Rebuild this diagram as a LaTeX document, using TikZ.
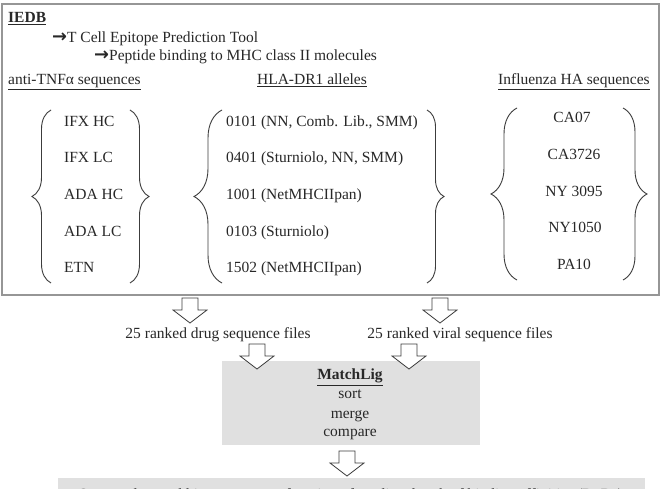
\documentclass[tikz,border=0pt]{standalone}
\usepackage{fontspec}
\setmainfont{Liberation Serif}
\newfontfamily\arrfont{DejaVu Sans}[Scale=1.15]
\usetikzlibrary{decorations.pathreplacing}
\newcommand\dfs{\fontsize{15.5}{19}\selectfont}
\newcommand\barr{{\arrfont\bfseries →}}
\definecolor{framegray}{RGB}{150,150,150}
\definecolor{boxgray}{RGB}{224,224,224}
\definecolor{inkgray}{RGB}{40,40,40}
\definecolor{bracegray}{RGB}{60,60,60}
\tikzset{
  lbl/.style={anchor=base west, inner sep=0pt, font=\dfs, text=inkgray},
  lblc/.style={anchor=base, inner sep=0pt, font=\dfs, text=inkgray},
  frame/.style={draw=framegray, line width=2pt},
  graybox/.style={fill=boxgray, draw=none},
  brc/.style={draw=bracegray, line width=0.9pt, decorate},
  barrowstyle/.style={draw=bracegray, fill=white, line width=0.8pt, line join=miter},
  blockarrow/.pic={\path[barrowstyle] (-8,0) -- (8,0) -- (8,12) -- (17,12) -- (0,25) -- (-17,12) -- (-8,12) -- cycle;}
}
\begin{document}
\begin{tikzpicture}[x=1pt,y=-1pt]
\useasboundingbox (0,0) rectangle (662,489);
\clip (0,0) rectangle (662,489);
\fill[white] (0,0) rectangle (662,489);
% outer frame
\draw[frame] (2,4) rectangle (659,295);
% header texts
\node[lbl] (iedb) at (8,23) {\textbf{\underline{IEDB}}};
\node[lbl] (tool) at (52,43) {\barr T Cell Epitope Prediction Tool};
\node[lbl] (pep) at (94,61) {\barr Peptide binding to MHC class II molecules};
\node[lbl] (h1) at (8,85) {\underline{anti-TNFα sequences}};
\node[lblc] (h2) at (312,85) {\underline{HLA-DR1 alleles}};
\node[lbl] (h3) at (498,85) {\underline{Influenza HA sequences}};
% left column
\node[lbl] (d1) at (64,127) {IFX HC};
\node[lbl] (d2) at (64,163) {IFX LC};
\node[lbl] (d3) at (64,200) {ADA HC};
\node[lbl] (d4) at (64,237) {ADA LC};
\node[lbl] (d5) at (64,273) {ETN};
% middle column
\node[lbl] (m1) at (226,127) {0101 (NN, Comb. Lib., SMM)};
\node[lbl] (m2) at (226,163) {0401 (Sturniolo, NN, SMM)};
\node[lbl] (m3) at (226,200) {1001 (NetMHCIIpan)};
\node[lbl] (m4) at (226,237) {0103 (Sturniolo)};
\node[lbl] (m5) at (226,273) {1502 (NetMHCIIpan)};
% right column
\node[lblc] (v1) at (572,123) {CA07};
\node[lblc] (v2) at (574,160) {CA3726};
\node[lblc] (v3) at (574,197) {NY 3095};
\node[lblc] (v4) at (575,233) {NY1050};
\node[lblc] (v5) at (574,270) {PA10};
% braces
\coordinate (b1b) at (51,283); \coordinate (b1t) at (51,110);
\coordinate (b2b) at (130,283); \coordinate (b2t) at (130,110);
\coordinate (b3b) at (222,283); \coordinate (b3t) at (222,110);
\coordinate (b4b) at (427,283); \coordinate (b4t) at (427,110);
\coordinate (b5b) at (517,280); \coordinate (b5t) at (517,108);
\coordinate (b6b) at (623,280); \coordinate (b6t) at (623,108);
\draw[brc, decoration={brace, amplitude=19pt}] (b1b) -- (b1t);
\draw[brc, decoration={brace, amplitude=19pt}] (b2t) -- (b2b);
\draw[brc, decoration={brace, amplitude=28pt}] (b3b) -- (b3t);
\draw[brc, decoration={brace, amplitude=17pt}] (b4t) -- (b4b);
\draw[brc, decoration={brace, amplitude=26pt}] (b5b) -- (b5t);
\draw[brc, decoration={brace, amplitude=24pt}] (b6t) -- (b6b);
% first arrows and labels
\coordinate (a1) at (190,298);
\coordinate (a2) at (440,298);
\pic at (a1) {blockarrow};
\pic at (a2) {blockarrow};
\node[lblc] (drug) at (218,338) {25 ranked drug sequence files};
\node[lblc] (viral) at (460,338) {25 ranked viral sequence files};
% MatchLig box
\path[graybox] (222,361) rectangle (480,445);
\coordinate (a3) at (257,344);
\coordinate (a4) at (409,344);
\pic at (a3) {blockarrow};
\pic at (a4) {blockarrow};
\node[lblc] (ml) at (350,380) {\textbf{\underline{MatchLig}}};
\node[lblc] (sort) at (350,399) {sort};
\node[lblc] (merge) at (350,418) {merge};
\node[lblc] (comp) at (350,436) {compare};
% bottom box
\path[graybox] (58,478) rectangle (645,530);
\coordinate (a5) at (347,451);
\pic at (a5) {blockarrow};
\node[lblc] (out) at (351,499) {Scatter plots and histograms as a function of predicted rank of binding affinities (RnDs)};
\end{tikzpicture}
\end{document}
